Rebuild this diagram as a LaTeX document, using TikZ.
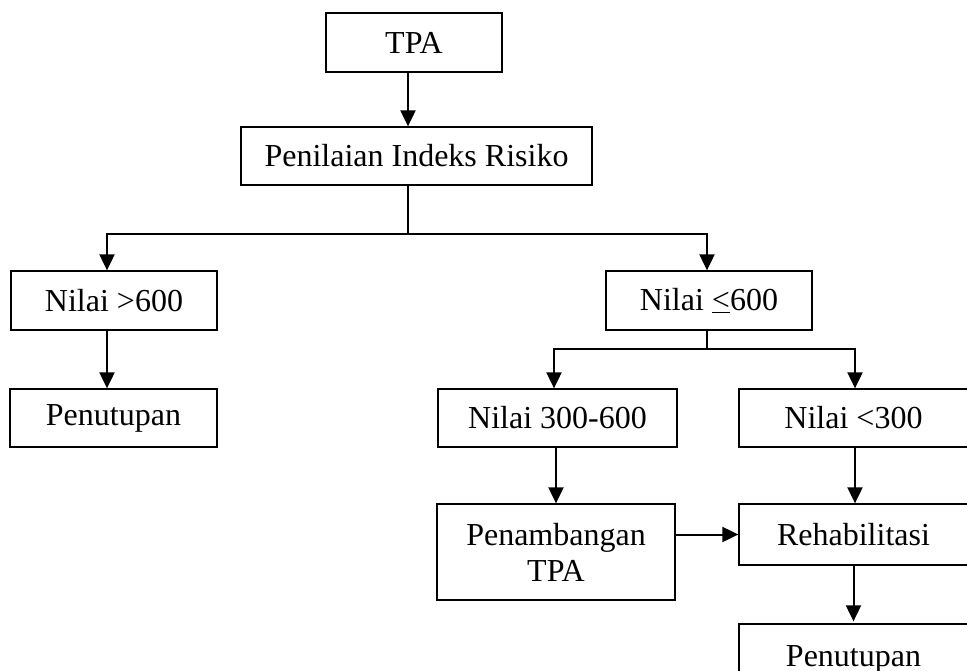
\documentclass[tikz,border=0pt]{standalone}
\usepackage{fontspec}
\setmainfont{Liberation Serif}
\usetikzlibrary{arrows.meta,calc}
\begin{document}
\begin{tikzpicture}[x=1pt,y=-1pt,
  box/.style={draw=black, line width=1.3pt, inner sep=0pt, align=center,
    font=\fontsize{32}{36}\selectfont},
  ln/.style={line width=2pt},
  arr/.style={line width=2pt, -{Triangle[length=16pt,width=15pt]}}]
\useasboundingbox (0,0) rectangle (967,670);
\begin{scope}
\clip (0,0) rectangle (967,670);
\node[box, minimum width=176pt, minimum height=59pt] (tpa) at (414,42.5) {TPA};
\node[box, minimum width=351pt, minimum height=58pt] (pir) at (416.5,156) {Penilaian Indeks Risiko};
\node[box, minimum width=206pt, minimum height=59pt] (n600) at (114,300.5) {Nilai >600};
\node[box, minimum width=207pt, minimum height=58pt] (pen1) at (113.5,418) {Penutupan};
\node[box, minimum width=206pt, minimum height=59pt] (nle) at (709,300.5) {Nilai \underline{<}600};
\node[box, minimum width=239pt, minimum height=58pt] (n36) at (557.5,418) {Nilai 300-600};
\node[box, minimum width=229pt, minimum height=58pt] (n3) at (853.5,418) {Nilai <300};
\node[box, minimum width=238pt, minimum height=96pt] (pt) at (556,552) {Penambangan\\TPA};
\node[box, minimum width=229pt, minimum height=61pt] (reh) at (853.5,534.5) {Rehabilitasi};
\node[box, minimum width=229pt, minimum height=70pt] (pen2) at (853.5,659) {Penutupan};
\end{scope}
% connectors
\draw[arr] ([xshift=-6pt]tpa.south) -- ([xshift=-6pt]tpa.south |- pir.north);
\draw[ln] ([xshift=-8.5pt]pir.south) -- ++(0,48) coordinate (j1);
\draw[arr] (j1) -| ([xshift=-7pt]n600.north);
\draw[arr] (j1) -| ([xshift=-2pt]nle.north);
\draw[arr] ([xshift=-7pt]n600.south) -- ([xshift=-7pt]n600.south |- pen1.north);
\draw[ln] ([xshift=-2pt]nle.south) -- ++(0,18) coordinate (j2);
\draw[arr] (j2) -| ([xshift=-3.5pt]n36.north);
\draw[arr] (j2) -| ([xshift=1.5pt]n3.north);
\draw[arr] (pt.north |- n36.south) -- (pt.north);
\draw[arr] ([xshift=1.5pt]n3.south) -- ([xshift=1.5pt]reh.north);
\draw[arr] (pt.east |- reh.west) -- (reh.west);
\draw[arr] (reh.south) -- ([yshift=2pt]pen2.north);
\end{tikzpicture}
\end{document}
